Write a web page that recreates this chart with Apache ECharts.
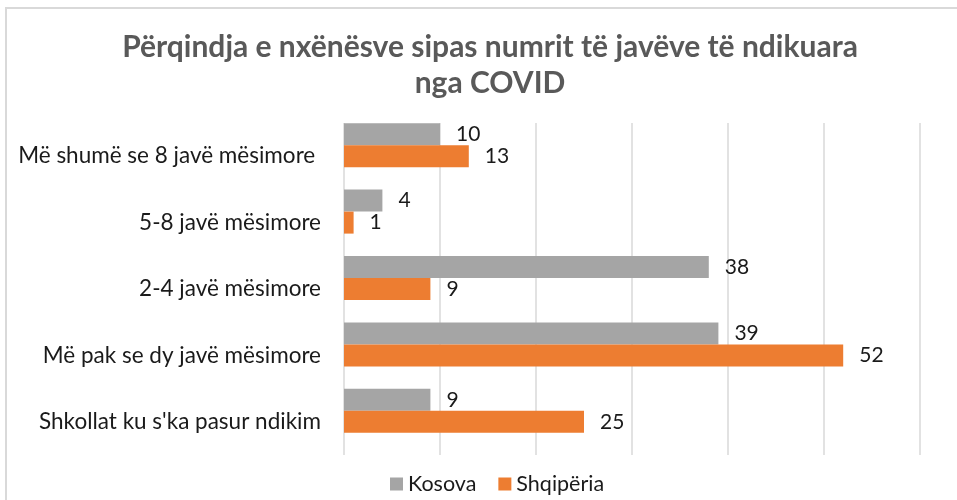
<!DOCTYPE html>
<html>
<head>
<meta charset="utf-8">
<script src="https://cdn.jsdelivr.net/npm/echarts@6/dist/echarts.min.js"></script>
<style>
  html, body { margin: 0; padding: 0; background: #fff; }
  #chart { width: 957px; height: 500px; }
</style>
</head>
<body>
<div id="chart"></div>
<script>
const titleLines = ['Përqindja e nxënësve sipas numrit të javëve të ndikuara', 'nga COVID'];
const categories = ['Më shumë se 8 javë mësimore ', '5-8 javë mësimore', '2-4 javë mësimore', 'Më pak se dy javë mësimore', "Shkollat ku s'ka pasur ndikim"];
const seriesNames = ['Kosova', 'Shqipëria'];
const kosova = [10, 4, 38, 39, 9];
const shqiperia = [13, 1, 9, 52, 25];
const axisMin = 0, axisMax = 60, axisStep = 10;

const FONT = 'Lato, "Noto Sans", sans-serif';
const chart = echarts.init(document.getElementById('chart'), null, { renderer: 'canvas' });

const labelOpt = {
  show: true, position: 'right', distance: 16,
  color: '#1a1a1a', fontSize: 21, fontFamily: FONT
};

chart.setOption({
  animation: false,
  backgroundColor: '#ffffff',
  graphic: [
    { type: 'rect', shape: { x: 6, y: 8, width: 970, height: 510 }, style: { fill: 'none', stroke: '#d9d9d9', lineWidth: 2 }, silent: true },
    { type: 'text', x: 490, y: 47, style: { text: titleLines[0], textAlign: 'center', textVerticalAlign: 'middle', fill: '#595959', font: 'bold 30px ' + FONT } },
    { type: 'text', x: 490, y: 83, style: { text: titleLines[1], textAlign: 'center', textVerticalAlign: 'middle', fill: '#595959', font: 'bold 30px ' + FONT } }
  ],
  legend: {
    data: seriesNames,
    left: 385, top: 468,
    itemWidth: 13, itemHeight: 13, itemGap: 22,
    icon: 'rect',
    textStyle: { color: '#1a1a1a', fontSize: 21.5, fontFamily: FONT }
  },
  grid: { left: 344, right: 37, top: 123, bottom: 45, containLabel: false },
  xAxis: {
    type: 'value', min: axisMin, max: axisMax, interval: axisStep,
    axisLabel: { show: false }, axisLine: { show: false }, axisTick: { show: false },
    splitLine: { show: true, lineStyle: { color: '#d9d9d9', width: 1.5 } }
  },
  yAxis: {
    type: 'category', data: categories, inverse: true,
    axisLine: { show: false }, axisTick: { show: false },
    axisLabel: { color: '#1a1a1a', fontSize: 22.5, fontFamily: FONT, margin: 23 }
  },
  series: [
    { name: seriesNames[0], type: 'bar', data: kosova, barWidth: 22, barGap: '0%', itemStyle: { color: '#a5a5a5' }, label: labelOpt },
    { name: seriesNames[1], type: 'bar', data: shqiperia, barWidth: 22, barGap: '0%', itemStyle: { color: '#ed7d31' }, label: labelOpt },
    { name: 'spacer', type: 'bar', data: [], barWidth: 22, barGap: '0%', silent: true }
  ]
});
</script>
</body>
</html>
